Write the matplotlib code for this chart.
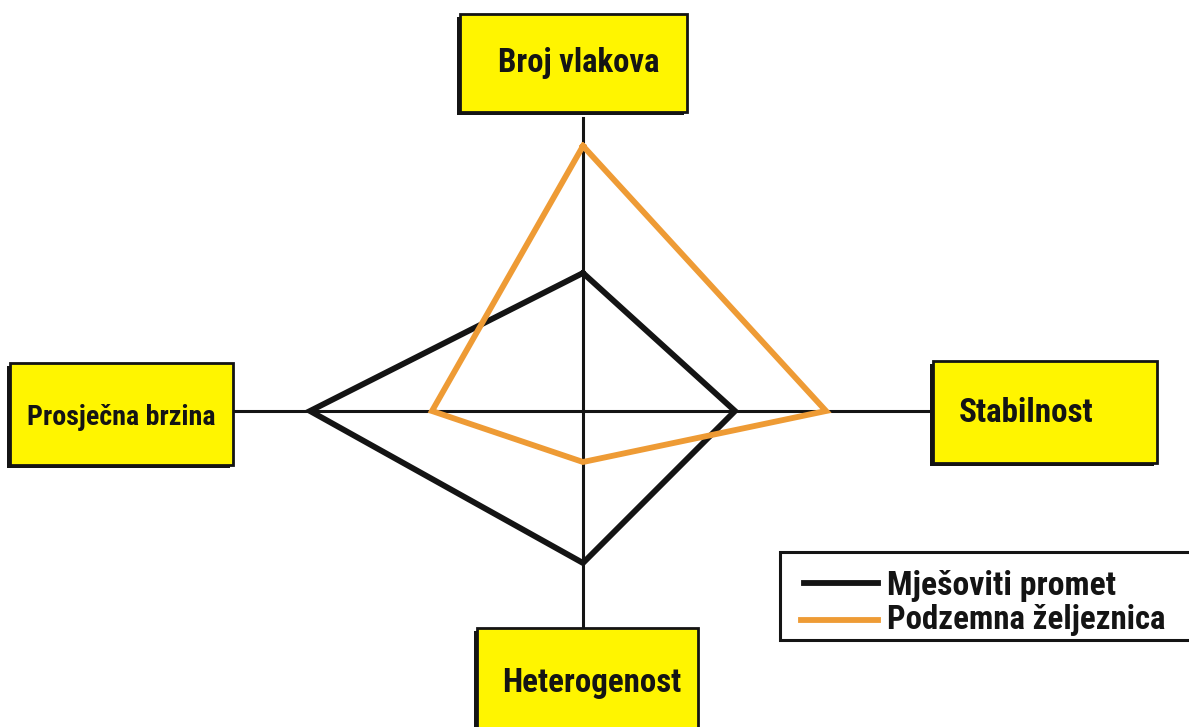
import numpy as np
import matplotlib
matplotlib.use("Agg")
from matplotlib import pyplot as plt
from matplotlib.patches import Rectangle

plt.rcParams['font.family'] = ['Roboto Condensed', 'Liberation Sans', 'DejaVu Sans']

# axes of the diagram: up, right, down, left
categories = ['Broj vlakova', 'Stabilnost', 'Heterogenost', 'Prosječna brzina']
series_names = ['Mješoviti promet', 'Podzemna željeznica']
mjesoviti = [1.38, 1.52, 1.52, 2.73]
podzemna = [2.65, 2.43, 0.51, 1.51]

black = '#141414'
orange = '#EE9B35'
yellow = '#FFF500'

directions = np.array([[0, 1], [1, 0], [0, -1], [-1, 0]])


def to_xy(values):
    pts = directions * np.array(values)[:, None]
    pts = np.vstack([pts, pts[:1]])
    return pts[:, 0], pts[:, 1]


def fit_width(txt, target_px):
    # scale the font so the text is as wide as in the reference
    fig.canvas.draw()
    w = txt.get_window_extent().width
    txt.set_fontsize(txt.get_fontsize() * target_px / w)


fig = plt.figure(figsize=(11.89, 7.27), dpi=100)
ax = fig.add_axes([0, 0, 1, 1])
ax.set_xlim(-5.83, 6.06)
ax.set_ylim(-3.16, 4.11)
ax.axis('off')

# cross axes
ax.plot([0, 0], [-2.17, 2.93], color=black, lw=2.2, zorder=1)
ax.plot([-3.50, 3.50], [0, 0], color=black, lw=2.2, zorder=1)

# the two series
x, y = to_xy(mjesoviti)
ax.plot(x, y, color=black, lw=4.2, solid_joinstyle='miter', zorder=3)
x, y = to_xy(podzemna)
ax.plot(x, y, color=orange, lw=4.2, solid_joinstyle='miter', zorder=4)

# label boxes: (x0, y0, width, height), text centre x / baseline y, text width px
boxes = {
    'Broj vlakova': ((-1.23, 2.99, 2.27, 0.98), (-0.04, 3.39), 162),
    'Stabilnost': ((3.50, -0.52, 2.24, 1.02), (4.43, -0.11), 135),
    'Heterogenost': ((-1.06, -3.29, 2.21, 1.12), (0.09, -2.81), 178),
    'Prosječna brzina': ((-5.73, -0.54, 2.23, 1.02), (-4.62, -0.14), 188),
}
labels = []
for name in categories:
    (x0, y0, w, h), (tx, ty), tw = boxes[name]
    ax.add_patch(Rectangle((x0 - 0.03, y0 - 0.03), w, h, facecolor=black,
                           edgecolor='none', zorder=5))
    ax.add_patch(Rectangle((x0, y0), w, h, facecolor=yellow, edgecolor=black,
                           lw=2.0, zorder=6))
    t = ax.text(tx, ty, name, ha='center', va='baseline', fontsize=20,
                fontweight='bold', color=black, zorder=7)
    labels.append((t, tw))

# legend
ax.add_patch(Rectangle((1.97, -2.29), 4.2, 0.88, facecolor='white',
                       edgecolor=black, lw=2.2, zorder=5))
ax.plot([2.21, 2.95], [-1.72, -1.72], color=black, lw=4.2, zorder=6)
ax.plot([2.18, 2.95], [-2.09, -2.09], color=orange, lw=4.2, zorder=6)
t1 = ax.text(3.04, -1.84, series_names[0], ha='left', va='baseline', fontsize=20,
             fontweight='bold', color=black, zorder=7)
t2 = ax.text(3.04, -2.18, series_names[1], ha='left', va='baseline', fontsize=20,
             fontweight='bold', color=black, zorder=7)
labels += [(t1, 228), (t2, 278)]

for t, tw in labels:
    fit_width(t, tw)

fig.savefig('out.png', dpi=100)
